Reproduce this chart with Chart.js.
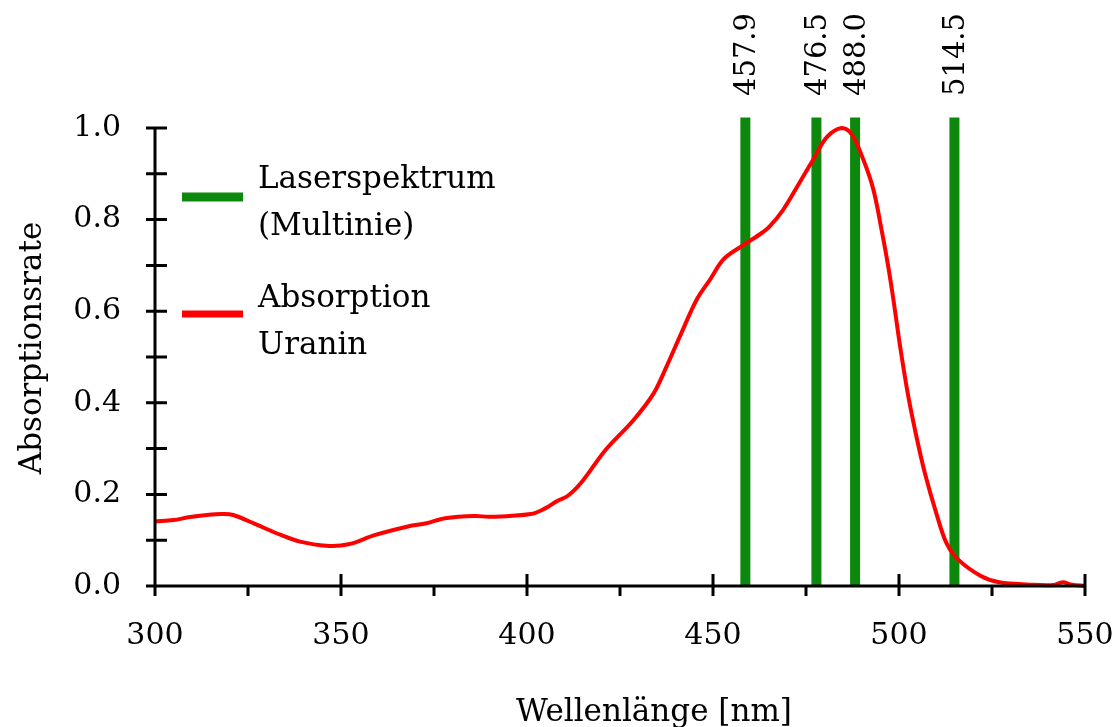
<!DOCTYPE html>
<html>
<head>
<meta charset="utf-8">
<script src="https://cdn.jsdelivr.net/npm/chart.js@4.4.0/dist/chart.umd.min.js"></script>
<style>
    html, body { margin: 0; padding: 0; background: #fff; }
    #wrap { width: 1115px; height: 727px; }
</style>
</head>
<body>
<div id="wrap"><canvas id="chart"></canvas></div>
<script>
// Absorptionsspektrum Uranin (Wellenlänge in nm, relative Absorption)
const wavelengths = [300, 305, 309, 314, 318, 321, 327, 334, 339, 346, 352, 359, 368, 373, 378, 386, 390, 401, 405, 408, 411, 415, 421, 428.6, 434, 437.5, 441.1, 445.6, 449.2, 452.8, 457.3, 462.6, 465.3, 468.9, 472.5, 477, 480.6, 484.6, 487.3, 490.4, 493.1, 495.3, 497.1, 498.5, 500.3, 502.5, 504.8, 507, 510.1, 512.8, 516, 522, 527, 535, 541.5, 544, 546.5, 550];
const absorption = [0.141, 0.144, 0.150, 0.155, 0.157, 0.155, 0.135, 0.111, 0.097, 0.088, 0.091, 0.111, 0.130, 0.137, 0.148, 0.153, 0.151, 0.157, 0.170, 0.185, 0.197, 0.230, 0.296, 0.362, 0.420, 0.479, 0.545, 0.625, 0.669, 0.713, 0.740, 0.768, 0.786, 0.822, 0.870, 0.932, 0.980, 1.000, 0.986, 0.931, 0.866, 0.778, 0.698, 0.625, 0.523, 0.414, 0.322, 0.245, 0.157, 0.093, 0.057, 0.022, 0.008, 0.003, 0.002, 0.008, 0.003, 0.000];

// Laserlinien (Multilinie): Lage im Bild und Beschriftung
const laserPositions = [458.7, 477.8, 488.2, 514.9];
const laserLabels = ['457.9', '476.5', '488.0', '514.5'];
const laserTop = 1.023;

// Achsen
const xMajorTicks = [300, 350, 400, 450, 500, 550];
const xMinorTicks = [325, 375, 425, 475, 525];
const xTickLabels = ['300', '350', '400', '450', '500', '550'];
const yMajorTicks = [0, 0.2, 0.4, 0.6, 0.8, 1.0];
const yMinorTicks = [0.1, 0.3, 0.5, 0.7, 0.9];
const yTickLabels = ['0.0', '0.2', '0.4', '0.6', '0.8', '1.0'];

const legendLabels = [['Laserspektrum', '(Multinie)'], ['Absorption', 'Uranin']];

const GREEN = '#0c890c';
const RED = '#ff0000';
const FONT = '"DejaVu Serif", serif';

const curveData = wavelengths.map((w, i) => ({ x: w, y: absorption[i] }));

const laserSets = laserPositions.map(p => ({
    data: [{ x: p, y: 0 }, { x: p, y: laserTop }],
    borderColor: GREEN,
    borderWidth: 10,
    borderCapStyle: 'butt',
    pointRadius: 0,
    clip: false
}));

const axisPlugin = {
    id: 'axisPlugin',
    afterDatasetsDraw(chart) {
        const { ctx, chartArea: a, scales: { x, y } } = chart;
        ctx.save();
        ctx.strokeStyle = '#000';
        ctx.lineWidth = 3;
        ctx.beginPath();
        ctx.moveTo(a.left, a.top);
        ctx.lineTo(a.left, a.bottom);
        ctx.moveTo(a.left, a.bottom);
        ctx.lineTo(a.right, a.bottom);
        // y: alle Striche kreuzen die Achse
        yMajorTicks.concat(yMinorTicks).forEach(v => {
            const py = y.getPixelForValue(v);
            ctx.moveTo(a.left - 9, py);
            ctx.lineTo(a.left + 12, py);
        });
        xMajorTicks.forEach(v => {
            const px = x.getPixelForValue(v);
            ctx.moveTo(px, a.bottom - 12);
            ctx.lineTo(px, a.bottom + 10);
        });
        xMinorTicks.forEach(v => {
            const px = x.getPixelForValue(v);
            ctx.moveTo(px, a.bottom);
            ctx.lineTo(px, a.bottom + 10);
        });
        ctx.stroke();
        ctx.restore();
    },
    afterDraw(chart) {
        const { ctx, scales: { x } } = chart;
        ctx.save();
        ctx.fillStyle = '#000';

        // Beschriftung der Laserlinien
        ctx.font = '29px ' + FONT;
        ctx.textAlign = 'left';
        ctx.textBaseline = 'middle';
        laserPositions.forEach((p, i) => {
            const px = x.getPixelForValue(p);
            ctx.save();
            ctx.translate(px + 2, 96);
            ctx.rotate(-Math.PI / 2);
            ctx.fillText(laserLabels[i], 0, 0);
            ctx.restore();
        });

        // Legende
        ctx.lineCap = 'butt';
        ctx.strokeStyle = GREEN;
        ctx.lineWidth = 9;
        ctx.beginPath(); ctx.moveTo(182, 197); ctx.lineTo(243, 197); ctx.stroke();
        ctx.strokeStyle = RED;
        ctx.lineWidth = 7;
        ctx.beginPath(); ctx.moveTo(182, 314); ctx.lineTo(243, 314); ctx.stroke();

        ctx.font = '31px ' + FONT;
        ctx.textBaseline = 'alphabetic';
        ctx.fillText(legendLabels[0][0], 258, 188);
        ctx.fillText(legendLabels[0][1], 258, 235);
        ctx.fillText(legendLabels[1][0], 258, 307);
        ctx.fillText(legendLabels[1][1], 258, 354);

        // Achsentitel
        ctx.textAlign = 'center';
        ctx.fillText('Wellenlänge [nm]', 654, 721);
        ctx.save();
        ctx.translate(41, 348);
        ctx.rotate(-Math.PI / 2);
        ctx.fillText('Absorptionsrate', 0, 0);
        ctx.restore();

        ctx.restore();
    }
};

new Chart(document.getElementById('chart'), {
    type: 'line',
    data: {
        datasets: [{
            data: curveData,
            borderColor: RED,
            borderWidth: 4,
            pointRadius: 0,
            tension: 0.35,
            clip: false
        }].concat(laserSets)
    },
    options: {
        responsive: true,
        maintainAspectRatio: false,
        animation: false,
        events: [],
        layout: { padding: { left: 0, top: 128, right: 30, bottom: 0 } },
        plugins: { legend: { display: false }, tooltip: { enabled: false } },
        scales: {
            x: {
                type: 'linear',
                min: 300,
                max: 550,
                afterBuildTicks: s => { s.ticks = xMajorTicks.map(v => ({ value: v })); },
                afterFit: s => { s.height = 141; s.paddingLeft = 0; s.paddingRight = 0; },
                grid: { display: false, drawTicks: false },
                border: { display: false },
                ticks: {
                    padding: 32,
                    maxRotation: 0,
                    color: '#000',
                    font: { family: FONT, size: 30 },
                    callback: v => xTickLabels[xMajorTicks.indexOf(v)]
                }
            },
            y: {
                type: 'linear',
                min: 0,
                max: 1,
                afterBuildTicks: s => { s.ticks = yMajorTicks.map(v => ({ value: v })); },
                afterFit: s => { s.width = 155; s.paddingTop = 0; s.paddingBottom = 0; },
                grid: { display: false, drawTicks: false },
                border: { display: false },
                ticks: {
                    padding: 34,
                    color: '#000',
                    font: { family: FONT, size: 30 },
                    callback: v => yTickLabels[yMajorTicks.indexOf(v)]
                }
            }
        }
    },
    plugins: [axisPlugin]
});
</script>
</body>
</html>
